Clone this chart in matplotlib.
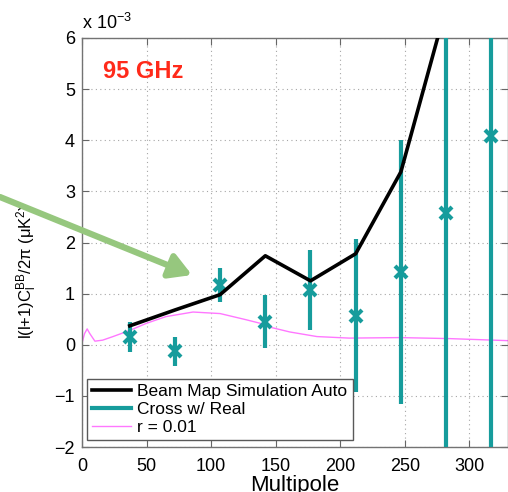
import matplotlib
matplotlib.use("Agg")
import matplotlib.pyplot as plt

plt.rcParams["font.family"] = ["Liberation Sans", "DejaVu Sans"]
plt.rcParams["mathtext.fontset"] = "custom"
plt.rcParams["mathtext.rm"] = "Liberation Sans"
plt.rcParams["mathtext.it"] = "Liberation Sans:italic"

# values in units of 1e-3 uK^2
ell_sim = [37, 72, 107, 142, 177, 212, 247, 282, 317]
sim_auto = [0.37, 0.68, 0.98, 1.74, 1.25, 1.78, 3.38, 6.6, 12.0]

ell_cross = [37, 72, 107, 142, 177, 212, 247, 282, 317]
cross_real = [0.15, -0.13, 1.17, 0.45, 1.07, 0.57, 1.43, 2.57, 4.08]
cross_err = [0.30, 0.28, 0.33, 0.52, 0.78, 1.50, 2.58, 12.0, 12.0]

ell_r = [0, 2, 4, 6, 10, 16, 24, 37, 50, 65, 86, 107, 127, 138, 143, 161, 182, 207, 246, 285, 330]
r001 = [0.03, 0.22, 0.31, 0.22, 0.07, 0.09, 0.16, 0.28, 0.42, 0.55, 0.64, 0.61, 0.49, 0.42, 0.36, 0.25, 0.16, 0.13, 0.14, 0.12, 0.08]

xticks = [0, 50, 100, 150, 200, 250, 300]
yticks = [-2, -1, 0, 1, 2, 3, 4, 5, 6]

teal = "#169c9c"

fig = plt.figure(figsize=(5.08, 4.92), dpi=100)
ax = fig.add_axes([82 / 508, 45 / 492, 426 / 508, 409 / 492])

ax.plot(ell_sim, sim_auto, color="black", lw=2.6, label="Beam Map Simulation Auto", zorder=4)
ax.errorbar(ell_cross, cross_real, yerr=cross_err, fmt="x", color=teal, ecolor=teal,
            elinewidth=3, capsize=0, ms=9, mew=3, zorder=3)
ax.plot([], [], color=teal, lw=3, label="Cross w/ Real")
ax.plot(ell_r, r001, color="#ff77ff", lw=1.0, label="r = 0.01", zorder=2)

ax.set_xlim(0, 330)
ax.set_ylim(-2, 6)
ax.set_xticks(xticks)
ax.set_yticks(yticks)
ax.tick_params(direction="in", top=True, right=True, length=5, width=0.8,
               labelsize=13, color="0.4")
ax.tick_params(axis="x", pad=8)
ax.tick_params(axis="y", pad=5)
for s in ax.spines.values():
    s.set_color("0.45")
    s.set_linewidth(1.0)
ax.grid(True, linestyle=(0, (1, 3)), color="0.65", lw=0.8)

ax.set_ylabel(r"l(l+1)C$_\mathrm{l}^\mathrm{BB}$/2π (μK$^2$)", fontsize=12)
ax.yaxis.set_label_coords(-0.1, 0.43)
ax.set_xlabel("Multipole", fontsize=16)
ax.xaxis.set_label_coords(0.5, -0.068)

ax.text(0.0, 1.012, r"x 10$^{-3}$", transform=ax.transAxes, fontsize=13,
        ha="left", va="bottom")
ax.text(0.05, 0.917, "95 GHz", transform=ax.transAxes, fontsize=17,
        fontweight="bold", color="#ff2a1a", ha="left", va="center")

leg = ax.legend(loc="lower left", bbox_to_anchor=(0.012, 0.017), borderaxespad=0,
                fontsize=12.5, handlelength=2.2, labelspacing=0.15, handletextpad=0.4,
                fancybox=False, framealpha=1, borderpad=0.3)
leg.get_frame().set_edgecolor("0.35")
leg.get_frame().set_linewidth(1.0)

# green pointer arrow from the left edge
ax.annotate("", xy=(192 / 508, 1 - 275 / 492), xytext=(0.0, 1 - 197 / 492),
            xycoords="figure fraction", textcoords="figure fraction",
            annotation_clip=False,
            arrowprops=dict(arrowstyle="-|>,head_length=1.3,head_width=0.75",
                            color="#96c77e", lw=4.5, shrinkA=0, shrinkB=0),
            zorder=6)

fig.savefig("out.png", dpi=100)
